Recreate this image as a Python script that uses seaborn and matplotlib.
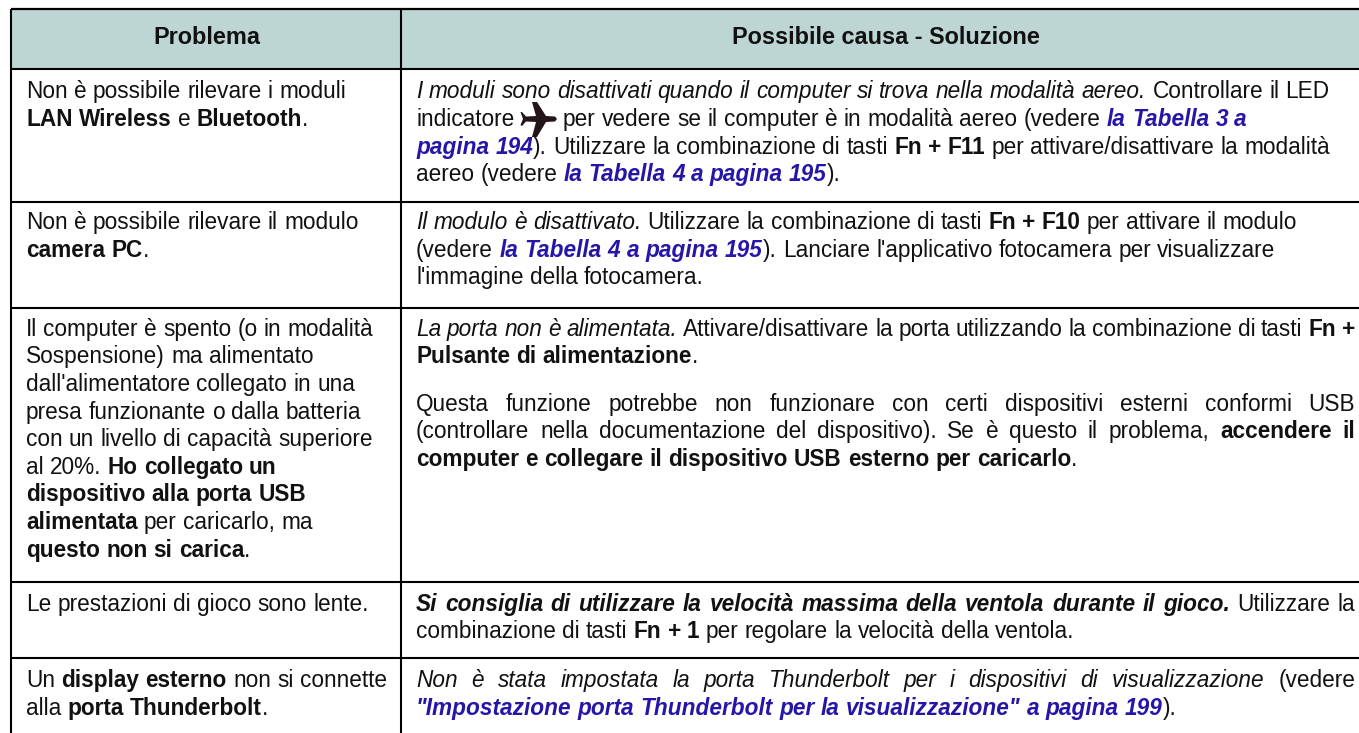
import re
import matplotlib
matplotlib.use("Agg")
import matplotlib.pyplot as plt
import seaborn as sns
from matplotlib.font_manager import FontProperties
from matplotlib.patches import Polygon

# --- DATA ---
HEADERS = ["Problema", "Possibile causa - Soluzione"]

# each line is a list of (style, text), r=regular b=bold i=italic x=bold italic l=link
LEFT_LINES = [
    [("r", "Non è possibile rilevare i moduli")],
    [("b", "LAN Wireless"), ("r", " e "), ("b", "Bluetooth"), ("r", ".")],
    [("r", "Non è possibile rilevare il modulo")],
    [("b", "camera PC"), ("r", ".")],
    [("r", "Il computer è spento (o in modalità")],
    [("r", "Sospensione) ma alimentato")],
    [("r", "dall'alimentatore collegato in una")],
    [("r", "presa funzionante o dalla batteria")],
    [("r", "con un livello di capacità superiore")],
    [("r", "al 20%. "), ("b", "Ho collegato un")],
    [("b", "dispositivo alla porta USB")],
    [("b", "alimentata"), ("r", " per caricarlo, ma")],
    [("b", "questo non si carica"), ("r", ".")],
    [("r", "Le prestazioni di gioco sono lente.")],
    [("r", "Un "), ("b", "display esterno"), ("r", " non si connette")],
    [("r", "alla "), ("b", "porta Thunderbolt"), ("r", ".")],
]
LEFT_BASELINES = [98, 126, 229, 257, 336, 363, 391, 419, 446, 474, 501, 529, 557, 611, 687, 715]

RIGHT_LINES = [
    [("i", "I moduli sono disattivati quando il computer si trova nella modalità aereo."), ("r", " Controllare il LED")],
    [("r", "indicatore")],
    [("l", "pagina 194"), ("r", "). Utilizzare la combinazione di tasti "), ("b", "Fn + F11"), ("r", " per attivare/disattivare la modalità")],
    [("r", "aereo (vedere "), ("l", "la Tabella 4 a pagina 195"), ("r", ").")],
    [("i", "Il modulo è disattivato."), ("r", " Utilizzare la combinazione di tasti "), ("b", "Fn + F10"), ("r", " per attivare il modulo")],
    [("r", "(vedere "), ("l", "la Tabella 4 a pagina 195"), ("r", "). Lanciare l'applicativo fotocamera per visualizzare")],
    [("r", "l'immagine della fotocamera.")],
    [("i", "La porta non è alimentata."), ("r", " Attivare/disattivare la porta utilizzando la combinazione di tasti "), ("b", "Fn +")],
    [("b", "Pulsante di alimentazione"), ("r", ".")],
    [("r", "Questa funzione potrebbe non funzionare con certi dispositivi esterni conformi USB")],
    [("r", "(controllare nella documentazione del dispositivo). Se è questo il problema, "), ("b", "accendere il")],
    [("b", "computer e collegare il dispositivo USB esterno per caricarlo"), ("r", ".")],
    [("x", "Si consiglia di utilizzare la velocità massima della ventola durante il gioco."), ("r", " Utilizzare la")],
    [("r", "combinazione di tasti "), ("b", "Fn + 1"), ("r", " per regolare la velocità della ventola.")],
    [("i", "Non è stata impostata la porta Thunderbolt per i dispositivi di visualizzazione"), ("r", " (vedere")],
    [("l", "\"Impostazione porta Thunderbolt per la visualizzazione\" a pagina 199"), ("r", ").")],
]
RIGHT_BASELINES = [98, 126, 154, 181, 229, 257, 284, 336, 363, 411, 438, 466, 611, 638, 687, 715]
RIGHT_JUSTIFIED = [7, 9, 10, 12, 14]

# the part of the second line that follows the airplane mark
PLANE_LINE_REST = [("r", "per vedere se il computer è in modalità aereo (vedere "), ("l", "la Tabella 3 a")]

ROW_RULES = [69, 202, 308, 582, 658]

# airplane icon outline
PLANE_OUTLINE = [
    (557, 119), (555, 116.5), (546, 116), (537, 102), (532, 102), (536, 116), (526, 116.5), (522, 112), (520.5, 112),
    (523, 119), (520.5, 125), (522, 126), (526, 121.5), (536, 122), (532, 137), (537, 137), (546, 122), (555, 121.5),
]

# --- SETTINGS ---
W, H = 1359, 733
TABLE_TOP = 9
TABLE_BOTTOM = 733
TABLE_LEFT = 11
COL_RULE = 401
LEFT_X = 26
RIGHT_X = 416
RIGHT_EDGE = 1355
PLANE_REST_X = 563
FONT_SIZE = 16.25
HEADER_SIZE = 16.9
HEADER_BG = "#bdd5d3"
LINK_COLOR = "#2516a8"
TEXT_COLOR = "#111111"

STYLES = {
    "r": dict(weight="normal", style="normal"),
    "b": dict(weight="bold", style="normal"),
    "i": dict(weight="normal", style="italic"),
    "x": dict(weight="bold", style="italic"),
    "l": dict(weight="bold", style="italic"),
}


def text_width(renderer, s, code):
    prop = FontProperties(family="Liberation Sans", size=FONT_SIZE, **STYLES[code])
    w, _, _ = renderer.get_text_width_height_descent(s, prop, False)
    return w


def draw_line(ax, renderer, x, y, runs, right=None):
    # place the line word by word so styles can mix and spacing can stretch
    space_w = {code: text_width(renderer, "a a", code) - text_width(renderer, "aa", code) for code in STYLES}
    total = 0
    n_spaces = 0
    for code, txt in runs:
        for part in re.split("( )", txt):
            if part == " ":
                total += space_w[code]
                n_spaces += 1
            elif part:
                total += text_width(renderer, part, code)
    extra = (right - x - total) / n_spaces if right is not None else 0
    for code, txt in runs:
        color = LINK_COLOR if code == "l" else TEXT_COLOR
        for part in re.split("( )", txt):
            if part == " ":
                x += space_w[code] + extra
            elif part:
                ax.text(x, y, part, color=color, fontsize=FONT_SIZE, family="Liberation Sans",
                        va="baseline", ha="left", **STYLES[code])
                x += text_width(renderer, part, code)


def main():
    sns.set_theme(style="white")
    fig, ax = plt.subplots(figsize=(W / 100, H / 100), dpi=100)
    fig.subplots_adjust(0, 0, 1, 1)
    ax.set_xlim(0, W)
    ax.set_ylim(H, 0)
    ax.axis("off")
    renderer = fig.canvas.get_renderer()

    # header band and rules
    ax.fill_between([TABLE_LEFT, W], TABLE_TOP, ROW_RULES[0], color=HEADER_BG, lw=0, zorder=0)
    ax.hlines(TABLE_TOP, TABLE_LEFT, W, color="black", lw=1.6)
    ax.hlines(ROW_RULES, TABLE_LEFT, W, color="black", lw=1.5)
    ax.vlines([TABLE_LEFT, COL_RULE], TABLE_TOP, TABLE_BOTTOM, color="black", lw=1.5)

    ax.text(207, 44, HEADERS[0], fontsize=HEADER_SIZE, family="Liberation Sans",
            weight="bold", ha="center", va="baseline", color=TEXT_COLOR)
    ax.text(886, 44, HEADERS[1], fontsize=HEADER_SIZE, family="Liberation Sans",
            weight="bold", ha="center", va="baseline", color=TEXT_COLOR)

    for line, y in zip(LEFT_LINES, LEFT_BASELINES):
        draw_line(ax, renderer, LEFT_X, y, line)
    for i, (line, y) in enumerate(zip(RIGHT_LINES, RIGHT_BASELINES)):
        draw_line(ax, renderer, RIGHT_X, y, line, RIGHT_EDGE if i in RIGHT_JUSTIFIED else None)

    # airplane mark after "indicatore", then the rest of that line
    ax.add_patch(Polygon(PLANE_OUTLINE, closed=True, facecolor="#24151a", edgecolor="none"))
    draw_line(ax, renderer, PLANE_REST_X, RIGHT_BASELINES[1], PLANE_LINE_REST)

    fig.savefig("out.png", dpi=100)


if __name__ == "__main__":
    main()
